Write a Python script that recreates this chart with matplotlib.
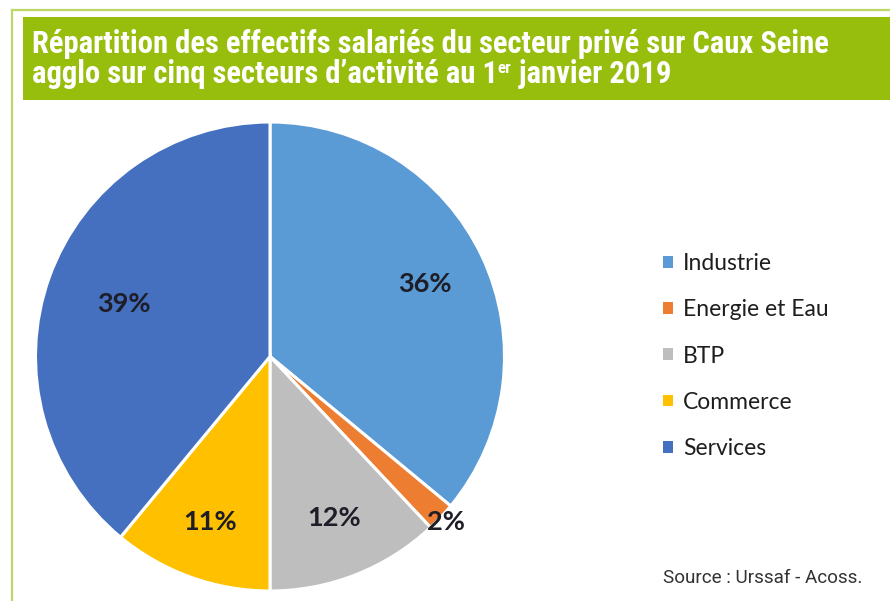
import matplotlib
matplotlib.use("Agg")
import matplotlib.pyplot as plt
import numpy as np
from matplotlib.patches import Rectangle, Patch
from matplotlib.lines import Line2D

# data
sectors = ["Industrie", "Energie et Eau", "BTP", "Commerce", "Services"]
shares = [36, 2, 12, 11, 39]
pct_labels = ["36%", "2%", "12%", "11%", "39%"]

colors = ["#5B9BD5", "#ED7D31", "#BEBEBE", "#FFC000", "#4570BF"]
label_dist = [0.73, 1.03, 0.74, 0.75, 0.66]

title_line1 = "Répartition des effectifs salariés du secteur privé sur Caux Seine"
title_line2a = "agglo sur cinq secteurs d\u2019activité au 1"
title_sup = "er"
title_line2b = " janvier 2019"
source_txt = "Source : Urssaf - Acoss."

W, H = 890, 601
fig = plt.figure(figsize=(W / 100, H / 100), dpi=100)
fig.patch.set_facecolor("white")

def fx(px):
    return px / W

def fy(py):
    # py measured from the top
    return 1 - py / H

# frame lines and green title band
border = "#BFD765"
fig.add_artist(Line2D([fx(12), fx(12)], [fy(10), 0], color=border, lw=1.6, transform=fig.transFigure))
fig.add_artist(Line2D([fx(12), 1], [fy(10), fy(10)], color=border, lw=1.6, transform=fig.transFigure))
fig.add_artist(Rectangle((fx(23), fy(100)), 1 - fx(23), (100 - 17) / H,
                         facecolor="#97BE0D", edgecolor="none", transform=fig.transFigure))

title_font = ["Roboto Condensed", "Liberation Sans Narrow", "Roboto", "DejaVu Sans"]
renderer = fig.canvas.get_renderer()

# first line, then shrink/grow the size so it spans like the original (~798 px)
t1 = fig.text(fx(32), fy(53), title_line1, color="white", fontsize=17, fontweight="bold",
              family=title_font, va="baseline", ha="left")
tsize = 17 * 798 / t1.get_window_extent(renderer).width
t1.set_fontsize(tsize)

t2 = fig.text(fx(32), fy(83), title_line2a, color="white", fontsize=tsize, fontweight="bold",
              family=title_font, va="baseline", ha="left")
bb = t2.get_window_extent(renderer)
t3 = fig.text(bb.x1 / W, fy(73), title_sup, color="white", fontsize=tsize * 0.55,
              fontweight="bold", family=title_font, va="baseline", ha="left")
bb3 = t3.get_window_extent(renderer)
fig.text(bb3.x1 / W, fy(83), title_line2b, color="white", fontsize=tsize, fontweight="bold",
         family=title_font, va="baseline", ha="left")

# pie
cx, cy, R = 270, 356.5, 234.5
ax = fig.add_axes([fx(cx - R), fy(cy + R), 2 * R / W, 2 * R / H])
wedges, _ = ax.pie(shares, colors=colors, startangle=90, counterclock=False,
                   wedgeprops=dict(edgecolor="white", linewidth=2.2), radius=1)
ax.set_xlim(-1, 1)
ax.set_ylim(-1, 1)
ax.set_aspect("equal")
ax.axis("off")

for w, lab, d in zip(wedges, pct_labels, label_dist):
    ang = np.deg2rad((w.theta1 + w.theta2) / 2)
    ax.text(d * np.cos(ang), d * np.sin(ang), lab, ha="center", va="center",
            fontsize=19.5, fontweight="bold", color="#1E1E28", family=["Lato", "DejaVu Sans"])

# legend
handles = [Patch(facecolor=c, edgecolor="none") for c in colors]
fig.legend(handles, sectors, loc="center left", bbox_to_anchor=(fx(663), fy(356)),
           frameon=False, borderpad=0, borderaxespad=0, handlelength=0.42, handleheight=0.42,
           handletextpad=0.45, labelspacing=1.1,
           prop=dict(family=["Lato", "DejaVu Sans"], size=16.5), labelcolor="#1E1E1E")

fig.text(fx(663), fy(578), source_txt, fontsize=13.6, color="#333333",
         family=["Roboto", "DejaVu Sans"], fontweight="normal", va="center", ha="left")

fig.savefig("out.png", dpi=100)
